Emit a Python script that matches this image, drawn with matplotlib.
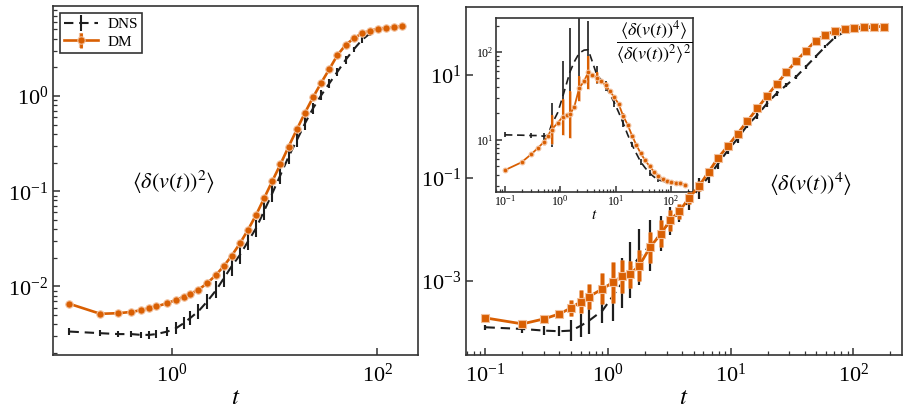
import numpy as np
import matplotlib
matplotlib.use('Agg')
import matplotlib.pyplot as plt
import matplotlib.ticker as mticker
import matplotlib.patheffects as pe

plt.rcParams['font.family'] = ['Liberation Serif', 'DejaVu Serif']
plt.rcParams['mathtext.fontset'] = 'stix'

# ---------------- data ----------------
t = [0.1, 0.2, 0.3, 0.4, 0.5, 0.6, 0.7, 0.9, 1.1, 1.3, 1.5, 1.8, 2.2, 2.7, 3.2, 3.8,
     4.6, 5.5, 6.6, 7.9, 9.5, 11.4, 13.7, 16.5, 19.8, 23.7, 28.5, 34.2, 41.0, 49.2,
     59.1, 70.9, 85.1, 102.1, 122.5, 147.0, 176.4]

# <delta v^2>
m2_dns = [0.00336, 0.00323, 0.00316, 0.00316, 0.0031, 0.0031, 0.00316, 0.00336, 0.00365,
          0.00412, 0.00465, 0.00546, 0.00695, 0.0092, 0.0122, 0.0162, 0.0215, 0.0297,
          0.0409, 0.0621, 0.0953, 0.148, 0.231, 0.345, 0.517, 0.743, 1.02, 1.36, 1.8,
          2.39, 3.09, 3.87, 4.55, 4.93, 5.21, 5.25, 5.34]
m2_dns_err = [0.035, 0.03, 0.03, 0.03, 0.035, 0.04, 0.04, 0.05, 0.06, 0.06, 0.07, 0.08,
              0.08, 0.09, 0.09, 0.1, 0.1, 0.09, 0.09, 0.09, 0.09, 0.09, 0.08, 0.07, 0.07,
              0.06, 0.05, 0.05, 0.04, 0.04, 0.03, 0.03, 0.03, 0.02, 0.02, 0.02, 0.02]
m2_dm = [0.00657, 0.00516, 0.00524, 0.0054, 0.00564, 0.00592, 0.00616, 0.00667, 0.00724,
         0.00783, 0.00835, 0.0092, 0.0108, 0.0133, 0.0164, 0.0209, 0.0284, 0.0393,
         0.0564, 0.0843, 0.128, 0.192, 0.294, 0.447, 0.668, 0.969, 1.38, 1.92, 2.69,
         3.43, 4.03, 4.55, 4.85, 5.09, 5.21, 5.25, 5.47]
m2_dm_err = [0.02, 0.02, 0.02, 0.02, 0.02, 0.02, 0.02, 0.02, 0.02, 0.02, 0.02, 0.02,
             0.02, 0.02, 0.02, 0.02, 0.02, 0.02, 0.02, 0.02, 0.02, 0.02, 0.02, 0.02,
             0.02, 0.02, 0.02, 0.02, 0.02, 0.02, 0.02, 0.02, 0.02, 0.02, 0.02, 0.02, 0.02]

# <delta v^4>
m4_dns = [1.23e-4, 1.14e-4, 1.06e-4, 1.03e-4, 1.06e-4, 1.32e-4, 1.66e-4, 2.6e-4, 5.1e-4,
          9.0e-4, 1.6e-3, 2.9e-3, 4.8e-3, 8.1e-3, 0.0144, 0.02, 0.0364, 0.0615, 0.104,
          0.189, 0.344, 0.581, 1.06, 1.66, 2.8, 4.39, 6.38, 9.27, 14.5, 22.8, 35.7, 54.3,
          70.1, 77.7, 82.6, 84.0, 81.3]
m4_dns_err = [0.05, 0.07, 0.09, 0.1, 0.2, 0.22, 0.27, 0.25, 0.5, 0.49, 0.54, 0.55, 0.5,
              0.34, 0.28, 0.16, 0.18, 0.2, 0.12, 0.1, 0.08, 0.08, 0.06, 0.08, 0.06, 0.05,
              0.04, 0.04, 0.04, 0.03, 0.03, 0.03, 0.03, 0.02, 0.02, 0.02, 0.02]
m4_dm = [1.87e-4, 1.43e-4, 1.79e-4, 2.24e-4, 2.93e-4, 3.89e-4, 4.87e-4, 6.88e-4, 9.27e-4,
         1.2e-3, 1.31e-3, 1.96e-3, 4.47e-3, 8.14e-3, 0.0148, 0.0222, 0.041, 0.0682, 0.13,
         0.244, 0.418, 0.727, 1.28, 2.24, 3.95, 6.67, 11.3, 18.7, 29.4, 46.7, 60.3, 72.2,
         79.1, 84.0, 86.5, 87.8, 87.8]
m4_dm_err = [0.03, 0.03, 0.04, 0.06, 0.15, 0.22, 0.25, 0.3, 0.4, 0.33, 0.26, 0.3, 0.3,
             0.26, 0.2, 0.15, 0.12, 0.1, 0.08, 0.06, 0.05, 0.05, 0.04, 0.04, 0.03, 0.03,
             0.03, 0.03, 0.02, 0.02, 0.02, 0.02, 0.02, 0.02, 0.02, 0.02, 0.02]

# kurtosis (inset)
kurt_dns = [11.4, 11.3, 11.2, 11.2, 11.0, 11.3, 14.9, 20.4, 30.5, 43.6, 59.4, 77.6, 97.0,
            105.0, 106.0, 77.6, 54.5, 48.0, 41.0, 33.0, 26.5, 20.5, 15.5, 11.5, 8.8, 7.0,
            5.6, 4.8, 4.2, 3.8, 3.5, 3.4, 3.3, 3.25, 3.2, 3.15, 3.1]
kurt_dns_err = [0.03, 0.03, 0.03, 0.03, 0.04, 0.1, 0.25, 0.3, 0.41, 0.45, 0.5, 0.45, 0.42,
                0.35, 0.33, 0.2, 0.1, 0.08, 0.06, 0.05, 0.05, 0.04, 0.04, 0.04, 0.03, 0.03,
                0.03, 0.03, 0.03, 0.02, 0.02, 0.02, 0.02, 0.02, 0.02, 0.02, 0.02]
kurt_dm = [4.52, 5.55, 6.87, 8.13, 9.38, 11.2, 13.1, 15.6, 18.2, 19.0, 19.5, 23.9, 38.7,
           46.7, 58.5, 54.5, 51.2, 46.8, 41.7, 35.7, 30.5, 25.5, 18.7, 14.9, 11.2, 8.75,
           7.0, 5.85, 5.02, 4.36, 3.92, 3.57, 3.43, 3.34, 3.27, 3.2, 3.05]
kurt_dm_err = [0.02, 0.02, 0.02, 0.02, 0.03, 0.05, 0.17, 0.1, 0.2, 0.15, 0.27, 0.15, 0.14,
               0.12, 0.19, 0.08, 0.06, 0.05, 0.04, 0.04, 0.03, 0.03, 0.03, 0.03, 0.02,
               0.02, 0.02, 0.02, 0.02, 0.02, 0.02, 0.02, 0.02, 0.02, 0.02, 0.02, 0.02]

# ---------------- style ----------------
ORANGE = '#d95f02'
EDGE = '#f2c09c'
DARK = '#1e1e1e'
SPINE = '#333333'


def logerr(v, h):
    v = np.asarray(v, float)
    h = np.asarray(h, float)
    return np.vstack([v - v / 10 ** h, v * 10 ** h - v])


def plot_pair(ax, y_dns, e_dns, y_dm, e_dm, marker, ms, lw_dm, elw_dm, lw_dns, elw_dns,
              errorevery=1, stroke=1.0):
    ax.errorbar(t, y_dns, yerr=logerr(y_dns, e_dns), color=DARK, ls=(0, (4.5, 2.8)),
                lw=lw_dns, elinewidth=elw_dns, capsize=0, label='DNS',
                errorevery=errorevery, zorder=2)
    c = ax.errorbar(t, y_dm, yerr=logerr(y_dm, e_dm), color=ORANGE, marker=marker,
                    ms=ms, mec=EDGE, mew=0.8, lw=lw_dm, elinewidth=elw_dm, capsize=0,
                    label='DM', errorevery=errorevery, zorder=3)
    for coll in c[2]:
        coll.set_path_effects([pe.Stroke(linewidth=elw_dm + stroke, foreground=EDGE),
                               pe.Normal()])
    return c


def style_axes(ax, lsize, majlen=5, minlen=2.6):
    ax.set_xscale('log')
    ax.set_yscale('log')
    for s in ax.spines.values():
        s.set_color(SPINE)
        s.set_linewidth(1.2)
    ax.tick_params(which='both', direction='in', top=False, right=False,
                   colors=SPINE, labelcolor='black', labelsize=lsize)
    ax.tick_params(which='major', length=majlen, width=1.1)
    ax.tick_params(which='minor', length=minlen, width=0.9)


fig = plt.figure(figsize=(9.1, 4.09), dpi=100)
ax1 = fig.add_axes([0.0582, 0.132, 0.4011, 0.853])
axin = fig.add_axes([0.545, 0.5313, 0.2165, 0.4254], zorder=1)
ax2 = fig.add_axes([0.5118, 0.132, 0.4795, 0.8516], zorder=2)
ax2.patch.set_alpha(0)

xlim = (0.069, 250)
fmt = mticker.LogFormatterSciNotation()

# ---------- left panel ----------
style_axes(ax1, 16)
plot_pair(ax1, m2_dns, m2_dns_err, m2_dm, m2_dm_err, 'o', 5.3, 1.9, 2.0, 1.5, 1.5)
ax1.set_xlim(*xlim)
ax1.set_ylim(10 ** -2.72, 10 ** 0.944)
ax1.xaxis.set_major_locator(mticker.FixedLocator([1, 100]))
ax1.xaxis.set_major_formatter(fmt)
ax1.xaxis.set_minor_locator(mticker.NullLocator())
ax1.yaxis.set_major_locator(mticker.LogLocator(base=10, numticks=10))
ax1.yaxis.set_minor_locator(mticker.LogLocator(base=10, subs=np.arange(2, 10), numticks=20))
ax1.yaxis.set_minor_formatter(mticker.NullFormatter())
ax1.set_xlabel(r'$t$', fontsize=18, labelpad=0)
ax1.tick_params(axis='x', pad=6)
ax1.text(0.33, 0.495, r'$\langle\delta(v(t))^2\rangle$', transform=ax1.transAxes,
         fontsize=16, ha='center', va='center')
leg = ax1.legend(loc='upper left', fontsize=11, fancybox=False, edgecolor=SPINE,
                 framealpha=1, borderaxespad=0.45, handlelength=2.2, borderpad=0.3,
                 labelspacing=0.25, handletextpad=0.6)
leg.get_frame().set_linewidth(1.2)

# ---------- right panel ----------
style_axes(ax2, 16)
plot_pair(ax2, m4_dns, m4_dns_err, m4_dm, m4_dm_err, 's', 5.5, 2.0, 2.5, 1.5, 1.6)
ax2.set_xlim(*xlim)
ax2.set_ylim(10 ** -4.45, 10 ** 2.33)
ax2.xaxis.set_major_locator(mticker.LogLocator(base=10, numticks=10))
ax2.xaxis.set_minor_locator(mticker.LogLocator(base=10, subs=np.arange(2, 10), numticks=20))
ax2.xaxis.set_minor_formatter(mticker.NullFormatter())
ax2.yaxis.set_major_locator(mticker.FixedLocator([1e-3, 1e-1, 1e1]))
ax2.yaxis.set_major_formatter(fmt)
ax2.yaxis.set_minor_locator(mticker.NullLocator())
ax2.set_xlabel(r'$t$', fontsize=18, labelpad=0)
ax2.tick_params(axis='x', pad=6)
ax2.text(0.79, 0.49, r'$\langle\delta(v(t))^4\rangle$', transform=ax2.transAxes,
         fontsize=16, ha='center', va='center')

# ---------- inset ----------
style_axes(axin, 8.5, majlen=4, minlen=2)
plot_pair(axin, kurt_dns, kurt_dns_err, kurt_dm, kurt_dm_err, 'o', 3.4, 1.3, 1.5, 1.2,
          1.2, errorevery=2, stroke=0.6)
axin.set_xlim(*xlim)
axin.set_ylim(10 ** 0.41, 10 ** 2.39)
axin.xaxis.set_major_locator(mticker.LogLocator(base=10, numticks=10))
axin.xaxis.set_minor_locator(mticker.LogLocator(base=10, subs=np.arange(2, 10), numticks=20))
axin.xaxis.set_minor_formatter(mticker.NullFormatter())
axin.yaxis.set_major_locator(mticker.LogLocator(base=10, numticks=10))
axin.yaxis.set_minor_locator(mticker.LogLocator(base=10, subs=np.arange(2, 10), numticks=20))
axin.yaxis.set_minor_formatter(mticker.NullFormatter())
axin.tick_params(axis='both', pad=2)
axin.set_xlabel(r'$t$', fontsize=11, labelpad=0)
axin.text(0.995, 0.995,
          r'$\dfrac{\langle\delta(v(t))^4\rangle}{\langle\delta(v(t))^2\rangle^2}$',
          transform=axin.transAxes, ha='right', va='top', fontsize=13)

fig.savefig('out.png', dpi=100)
